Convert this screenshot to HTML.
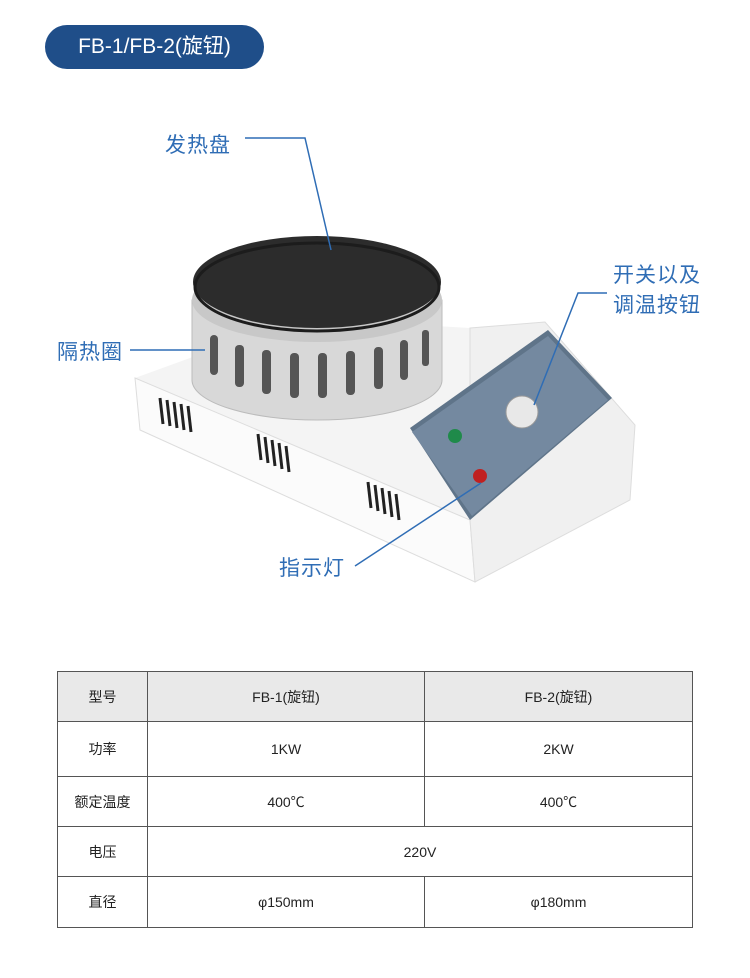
<!DOCTYPE html>
<html><head><meta charset="utf-8"><style>
body{margin:0;width:750px;height:978px;background:#fff;position:relative;overflow:hidden;font-family:"Liberation Sans","Noto Sans CJK SC",sans-serif}
.pill{position:absolute;left:45px;top:25px;width:219px;height:44px;border-radius:22px;background:#1f4e89;color:#fff;font-size:21px;line-height:44px;text-align:center}
.lbl{position:absolute;color:#2f6db5;font-size:21px;letter-spacing:1px}
table{position:absolute;left:57px;top:671px;border-collapse:collapse;font-size:14px;color:#222}
td{border:1px solid #555;text-align:center;padding:0}
</style></head><body>
<div class="pill">FB-1/FB-2(旋钮)</div>
<svg width="750" height="660" style="position:absolute;left:0;top:0">
<polygon points="135,378 300,318 470,328 470,520" fill="#f4f4f4"/>
<polygon points="135,378 470,520 475,582 140,430" fill="#fbfbfb" stroke="#ddd"/>
<polygon points="470,328 545,322 635,425 630,500 475,582 470,520" fill="#f0f0f0" stroke="#ddd"/>
<polygon points="410,428 548,330 612,398 470,520" fill="#5f7489"/>
<polygon points="412,432 548,336 608,400 472,516" fill="#7489a0"/>
<circle cx="455" cy="436" r="7" fill="#1f8a4a"/>
<circle cx="480" cy="476" r="7" fill="#c02020"/>
<circle cx="522" cy="412" r="16" fill="#e8e8e8" stroke="#999"/>
<g stroke="#222" stroke-width="3">
<line x1="160" y1="398" x2="163" y2="424"/><line x1="167" y1="400" x2="170" y2="426"/><line x1="174" y1="402" x2="177" y2="428"/><line x1="181" y1="404" x2="184" y2="430"/><line x1="188" y1="406" x2="191" y2="432"/>
<line x1="258" y1="434" x2="261" y2="460"/><line x1="265" y1="437" x2="268" y2="463"/><line x1="272" y1="440" x2="275" y2="466"/><line x1="279" y1="443" x2="282" y2="469"/><line x1="286" y1="446" x2="289" y2="472"/>
<line x1="368" y1="482" x2="371" y2="508"/><line x1="375" y1="485" x2="378" y2="511"/><line x1="382" y1="488" x2="385" y2="514"/><line x1="389" y1="491" x2="392" y2="517"/><line x1="396" y1="494" x2="399" y2="520"/>
</g>
<path d="M192,300 L192,380 A125,40 0 0 0 442,380 L442,300 Z" fill="#d8d8d8" stroke="#bbb"/>
<g fill="#555">
<rect x="210" y="335" width="8" height="40" rx="4"/><rect x="235" y="345" width="9" height="42" rx="4"/><rect x="262" y="350" width="9" height="44" rx="4"/><rect x="290" y="353" width="9" height="45" rx="4"/><rect x="318" y="353" width="9" height="45" rx="4"/><rect x="346" y="351" width="9" height="44" rx="4"/><rect x="374" y="347" width="9" height="42" rx="4"/><rect x="400" y="340" width="8" height="40" rx="4"/><rect x="422" y="330" width="7" height="36" rx="3"/>
</g>
<ellipse cx="317" cy="300" rx="125" ry="42" fill="#c8c8c8"/>
<ellipse cx="317" cy="282" rx="124" ry="46" fill="#2c2c2c"/>
<ellipse cx="317" cy="287" rx="122" ry="44" fill="none" stroke="#1c1c1c" stroke-width="3"/>
<g stroke="#2f6db5" stroke-width="1.5" fill="none">
<polyline points="245,138 305,138 331,250"/>
<line x1="130" y1="350" x2="205" y2="350"/>
<polyline points="607,293 578,293 534,405"/>
<line x1="355" y1="566" x2="481" y2="483"/>
</g>
</svg>
<div class="lbl" style="left:165px;top:129px">发热盘</div>
<div class="lbl" style="left:57px;top:336px">隔热圈</div>
<div class="lbl" style="left:613px;top:259px">开关以及</div>
<div class="lbl" style="left:613px;top:289px">调温按钮</div>
<div class="lbl" style="left:279px;top:552px">指示灯</div>
<table>
<tr style="height:50px;background:#e9e9e9"><td style="width:89px">型号</td><td style="width:276px">FB-1(旋钮)</td><td style="width:267px">FB-2(旋钮)</td></tr>
<tr style="height:55px"><td>功率</td><td>1KW</td><td>2KW</td></tr>
<tr style="height:50px"><td>额定温度</td><td>400℃</td><td>400℃</td></tr>
<tr style="height:50px"><td>电压</td><td colspan="2">220V</td></tr>
<tr style="height:51px"><td>直径</td><td>φ150mm</td><td>φ180mm</td></tr>
</table>
</body></html>
